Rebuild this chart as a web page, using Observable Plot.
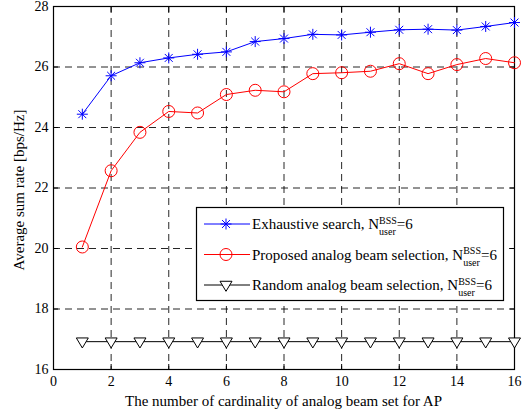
<!DOCTYPE html>
<html><head><meta charset="utf-8">
<script src="https://cdn.jsdelivr.net/npm/d3@7"></script>
<script src="https://cdn.jsdelivr.net/npm/@observablehq/plot@0.6"></script>
<style>
body{margin:0;background:#fff}
svg, svg text{font-family:"Liberation Serif","Times New Roman",serif !important}
</style>
</head><body><div id="chart"></div>
<script>
const beamSetSize = [1,2,3,4,5,6,7,8,9,10,11,12,13,14,15,16];
const exhaustive = [24.44,25.71,26.14,26.30,26.42,26.50,26.84,26.94,27.08,27.06,27.15,27.23,27.25,27.22,27.34,27.47];
const proposed   = [20.05,22.57,23.84,24.53,24.48,25.09,25.23,25.18,25.78,25.81,25.86,26.11,25.78,26.08,26.28,26.14];
const random     = [16.92,16.92,16.92,16.92,16.92,16.92,16.92,16.92,16.92,16.92,16.92,16.92,16.92,16.92,16.92,16.92];
const xTicks = [0,2,4,6,8,10,12,14,16];
const yTicks = [16,18,20,22,24,26,28];
const seriesNames = ["Exhaustive search, N", "Proposed analog beam selection, N", "Random analog beam selection, N"];
const xLabel = "The number of cardinality of analog beam set for AP";
const yLabel = "Average sum rate [bps/Hz]";
const FONT = '"Liberation Serif","Times New Roman",serif';

const asterisk = {draw(ctx, size){
  const r = Math.sqrt(size/Math.PI), d = r*0.72;
  ctx.moveTo(0,-r); ctx.lineTo(0,r);
  ctx.moveTo(-r,0); ctx.lineTo(r,0);
  ctx.moveTo(-d,-d); ctx.lineTo(d,d);
  ctx.moveTo(-d,d); ctx.lineTo(d,-d);
}};
const triDown = {draw(ctx, size){
  const r = Math.sqrt(size/Math.PI);
  ctx.moveTo(-r,-0.62*r); ctx.lineTo(r,-0.62*r); ctx.lineTo(0,1.05*r); ctx.closePath();
}};

const rows = (vals) => vals.map((v,i)=>({x: beamSetSize[i], y: v}));
const ex = rows(exhaustive), pr = rows(proposed), ra = rows(random);

const gridStyle = {stroke:"black", strokeOpacity:0.85, strokeDasharray:"7,5", strokeWidth:1};
const plot = Plot.plot({
  width: 529, height: 413,
  marginLeft: 53, marginRight: 15, marginTop: 6, marginBottom: 44,
  x: {domain:[0,16]},
  y: {domain:[16,28]},
  style: {fontFamily: FONT, fontSize:"14px", color:"black", background:"white"},
  marks: [
    Plot.gridX(xTicks, gridStyle),
    Plot.gridY(yTicks, gridStyle),
    Plot.axisX(xTicks, {anchor:"bottom", tickSize:0, tickPadding:7, label:null, fontSize:14, fontFamily:FONT}),
    Plot.axisX(xTicks, {anchor:"bottom", tickSize:5, dy:-5, fill:"none", label:null}),
    Plot.axisX(xTicks, {anchor:"top", tickSize:5, dy:5, fill:"none", label:null}),
    Plot.axisY(yTicks, {anchor:"left", tickSize:0, tickPadding:5, label:null, fontSize:14, fontFamily:FONT}),
    Plot.axisY(yTicks, {anchor:"left", tickSize:5, dx:5, fill:"none", label:null}),
    Plot.axisY(yTicks, {anchor:"right", tickSize:5, dx:-5, fill:"none", label:null}),
    Plot.frame({stroke:"black", strokeWidth:1.2}),
    Plot.line(ra, {x:"x", y:"y", stroke:"black", strokeWidth:1}),
    Plot.dot(ra, {x:"x", y:"y", stroke:"black", fill:"white", symbol:triDown, r:6, strokeWidth:1}),
    Plot.line(pr, {x:"x", y:"y", stroke:"#ff0000", strokeWidth:1}),
    Plot.dot(pr, {x:"x", y:"y", stroke:"#ff0000", fill:"none", symbol:"circle", r:6, strokeWidth:1}),
    Plot.line(ex, {x:"x", y:"y", stroke:"#0000ff", strokeWidth:1}),
    Plot.dot(ex, {x:"x", y:"y", stroke:"#0000ff", fill:"none", symbol:asterisk, r:5.5, strokeWidth:1})
  ]
});
document.getElementById("chart").appendChild(plot);

const svg = d3.select(plot);
svg.append("text").attr("x", (53+514)/2).attr("y", 406).attr("text-anchor","middle")
  .attr("font-size",15).attr("font-family",FONT).attr("fill","black").text(xLabel);
svg.append("text").attr("transform","translate(24,190) rotate(-90)").attr("text-anchor","middle")
  .attr("font-size",15).attr("font-family",FONT).attr("fill","black").text(yLabel);

// legend
const lg = svg.append("g").attr("text-anchor","start").attr("font-family",FONT);
lg.append("rect").attr("x",196.5).attr("y",207.5).attr("width",307).attr("height",93)
  .attr("fill","white").attr("stroke","black").attr("stroke-width",1.2);
const colors = ["#0000ff","#ff0000","black"];
const syms = [asterisk, d3.symbolCircle, triDown];
const symR = [5.5, 6, 6];
const rowY = [224, 254.5, 285];
seriesNames.forEach((name,i)=>{
  const y = rowY[i];
  lg.append("line").attr("x1",204).attr("x2",250).attr("y1",y).attr("y2",y)
    .attr("stroke",colors[i]).attr("stroke-width",1);
  lg.append("path").attr("transform",`translate(226,${y})`)
    .attr("d", d3.symbol(syms[i], Math.PI*symR[i]*symR[i])())
    .attr("fill", i===2 ? "white" : "none").attr("stroke",colors[i]).attr("stroke-width",1);
  const t = lg.append("text").attr("x",252).attr("y",y+5).attr("font-size",15).attr("fill","black").text(name);
  const w = t.node().getComputedTextLength();
  const sup = lg.append("text").attr("x",252+w).attr("y",y-0.5).attr("font-size",10).attr("fill","black").text("BSS");
  const sub = lg.append("text").attr("x",252+w).attr("y",y+11).attr("font-size",10).attr("fill","black").text("user");
  const w2 = Math.max(sup.node().getComputedTextLength(), sub.node().getComputedTextLength());
  lg.append("text").attr("x",252+w+w2).attr("y",y+5).attr("font-size",15).attr("fill","black").text("=6");
});
</script>
</body></html>
